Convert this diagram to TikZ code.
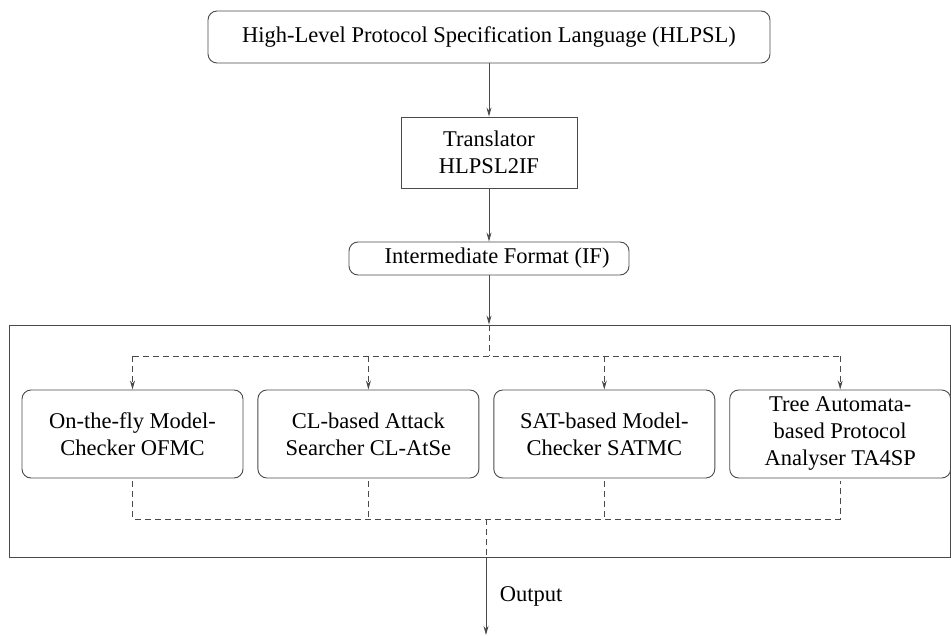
\documentclass[tikz,border=0pt]{standalone}
\usepackage{fontspec}
\setmainfont{Liberation Serif}
\usepackage{xcolor}
\usepackage{tikz}
\usetikzlibrary{arrows.meta, positioning, calc}
\definecolor{linegray}{HTML}{4A4A4A}

\begin{document}
\begin{tikzpicture}[x=1pt, y=-1pt,
  every node/.style={font=\fontsize{22.5}{27}\selectfont},
  box/.style={draw=linegray, line width=0.9pt, align=center, inner sep=0pt},
  rbox/.style={box, rounded corners=9pt},
  tool/.style={rbox, minimum width=221pt, minimum height=88pt},
  flow/.style={draw=linegray, line width=0.9pt, -{Stealth[length=9pt, width=5pt]}},
  bus/.style={draw=linegray, line width=0.9pt, dash pattern=on 6pt off 4pt},
]
  \useasboundingbox (0,0) rectangle (951,636);

  % Translation chain
  \node[rbox, minimum width=562pt, minimum height=52pt] (hlpsl) at (489,37) {High-Level Protocol Specification Language (HLPSL)};
  \node[box, minimum width=176pt, minimum height=71pt] (trans) at (489,152.5) {Translator\\HLPSL2IF};
  \node[rbox, minimum width=280pt, minimum height=33pt] (ifmt) at (489,258.5) {\hspace{16pt}Intermediate Format (IF)};

  % Back-ends
  \node[box, minimum width=941pt, minimum height=232pt] (frame) at (479.5,441) {};
  \node[tool] (ofmc) at (132.5,434) {On-the-fly Model-\\Checker OFMC};
  \node[tool, right=14pt of ofmc] (clatse) {CL-based Attack\\Searcher CL-AtSe};
  \node[tool, right=14pt of clatse] (satmc) {SAT-based Model-\\Checker SATMC};
  \node[tool, right=14pt of satmc] (ta4sp) {Tree Automata-\\based Protocol\\Analyser TA4SP};

  \coordinate (split) at (489,356);
  \coordinate (join) at (486,519);
  \coordinate (out) at (486,635);

  % Arrows
  \draw[flow] (hlpsl) -- (trans);
  \draw[flow] (trans) -- (ifmt);
  \draw[flow] (ifmt) -- (ifmt |- frame.north);
  \draw[bus] (ifmt |- frame.north) -- (split);
  \draw[bus] (ofmc.north |- split) -- (ta4sp.north |- split);
  \foreach \t in {ofmc, clatse, satmc, ta4sp}
    \draw[bus, -{Stealth[length=9pt, width=5pt]}] (\t.north |- split) -- (\t.north);
  \draw[bus] ($(ofmc.south)+(0,3)$) |- (ta4sp.south |- join) -- ($(ta4sp.south)+(0,3)$);
  \foreach \t in {clatse, satmc}
    \draw[bus] ($(\t.south)+(0,3)$) -- (\t.south |- join);
  \draw[bus] (join) -- (join |- frame.south);
  \draw[flow] (join |- frame.south) -- (out) node[midway, right=10pt] (outlbl) {Output};

\end{tikzpicture}
\end{document}
